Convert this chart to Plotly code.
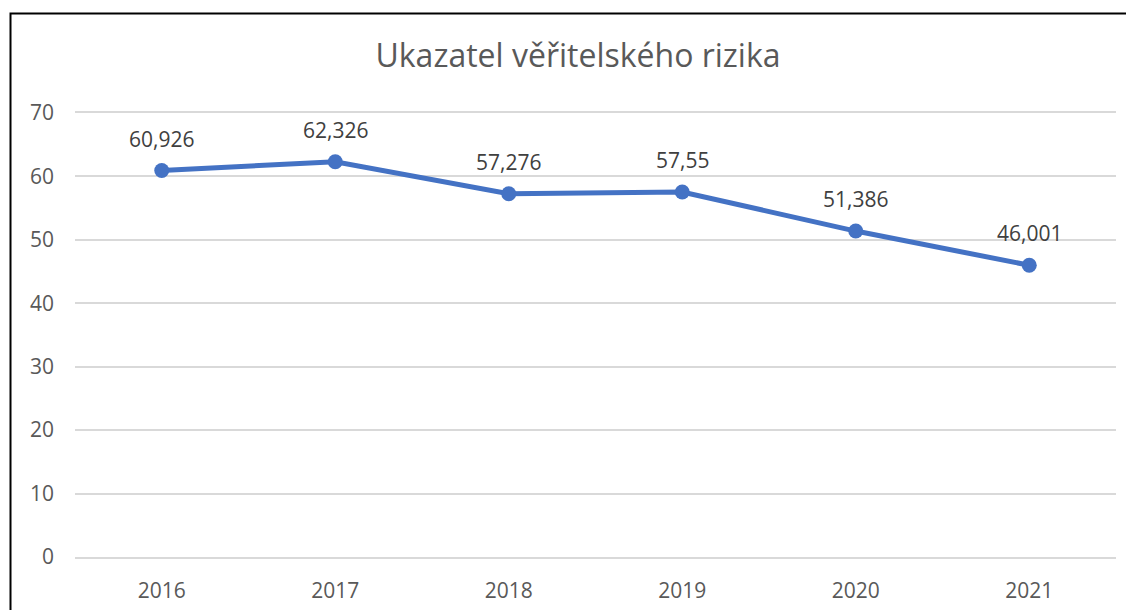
import plotly.graph_objects as go

years = ["2016", "2017", "2018", "2019", "2020", "2021"]
values = [60.926, 62.326, 57.276, 57.55, 51.386, 46.001]
labels = ["60,926", "62,326", "57,276", "57,55", "51,386", "46,001"]
title = "Ukazatel věřitelského rizika"

OFF = 8  # page body margin offset
W, H = 1134, 610
L, T = 75 - OFF, 113 - OFF
R = W - (1116 - OFF)
B = H - (557 - OFF)
pw, ph = W - L - R, H - T - B
FONT = "Open Sans, Noto Sans, sans-serif"

fig = go.Figure()
fig.add_trace(go.Scatter(
    x=years, y=values, mode="lines+markers",
    line=dict(color="#4472C4", width=5),
    marker=dict(color="#4472C4", size=15),
    hoverinfo="skip", showlegend=False,
))
annotations = [
    dict(x=i, y=yv, xref="x", yref="y", text=lab, showarrow=False,
         yshift=32, xanchor="center", yanchor="middle",
         font=dict(family=FONT, size=21, color="#404040"))
    for i, (yv, lab) in enumerate(zip(values, labels))
]

fig.add_shape(type="rect", xref="paper", yref="paper",
              x0=(10.5 - 75) / pw, x1=1.2, y0=-0.3, y1=(557 - 13.5) / ph,
              line=dict(color="black", width=2), fillcolor="rgba(0,0,0,0)", layer="above")

fig.update_layout(
    width=W, height=H,
    margin=dict(l=L, r=R, t=T, b=B),
    paper_bgcolor="white", plot_bgcolor="white",
    annotations=annotations,
    title=dict(text=title, x=(578 - OFF) / W, xanchor="center", y=1 - (56 - OFF) / H, yanchor="middle",
               font=dict(family=FONT, size=32, color="#595959")),
    xaxis=dict(type="category", range=[-0.5, 5.5], showgrid=False, zeroline=False,
               showline=True, linecolor="#D9D9D9", linewidth=1.5, mirror=True,
               ticks="", ticklabelstandoff=14,
               tickfont=dict(family=FONT, size=21, color="#595959")),
    yaxis=dict(range=[0, 70], dtick=10, showgrid=True, gridcolor="#D9D9D9", gridwidth=1.5,
               zeroline=False, showline=False, ticks="", ticklabelstandoff=20,
               tickfont=dict(family=FONT, size=21, color="#595959")),
)
fig.write_html("out.html")
